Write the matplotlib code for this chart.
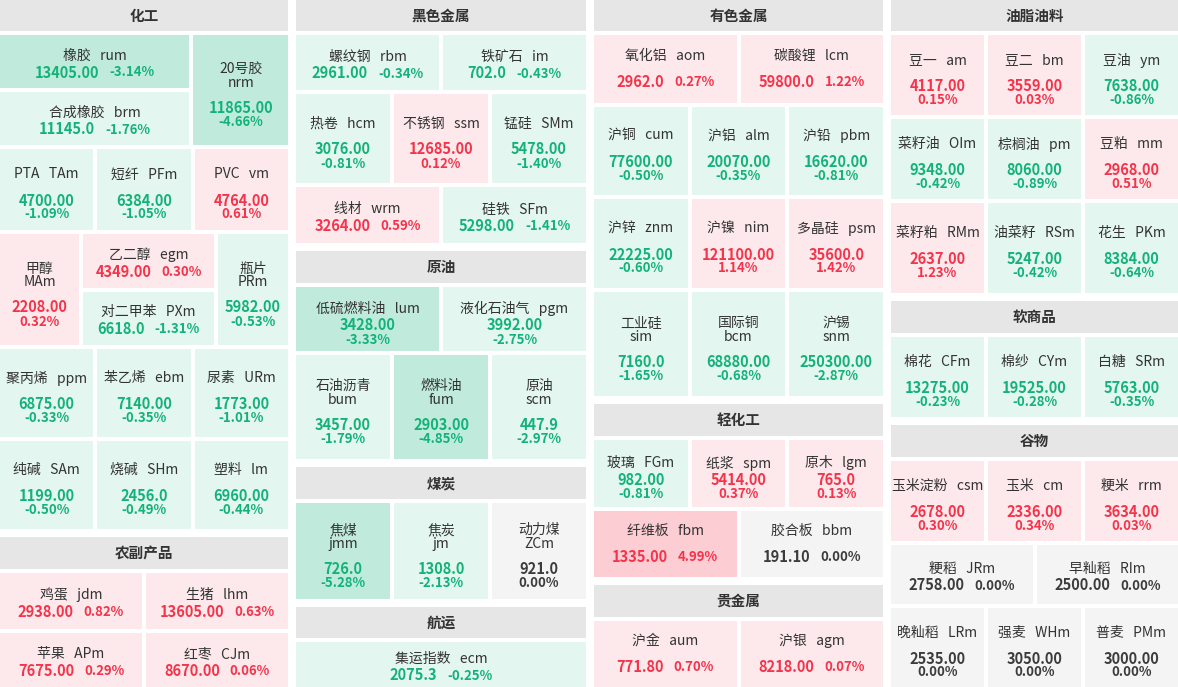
import matplotlib
matplotlib.use("Agg")
import matplotlib.pyplot as plt
from matplotlib.patches import Rectangle

plt.rcParams['font.family'] = ['Noto Sans CJK SC', 'DejaVu Sans']

# ---------------- data ----------------
chem_names = ["橡胶", "合成橡胶", "20号胶", "PTA", "短纤", "PVC", "甲醇", "乙二醇",
              "对二甲苯", "瓶片", "聚丙烯", "苯乙烯", "尿素", "纯碱", "烧碱", "塑料"]
chem_codes = ["rum", "brm", "nrm", "TAm", "PFm", "vm", "MAm", "egm",
              "PXm", "PRm", "ppm", "ebm", "URm", "SAm", "SHm", "lm"]
chem_prices = ["13405.00", "11145.0", "11865.00", "4700.00", "6384.00", "4764.00", "2208.00", "4349.00",
               "6618.0", "5982.00", "6875.00", "7140.00", "1773.00", "1199.00", "2456.0", "6960.00"]
chem_chg = [-3.14, -1.76, -4.66, -1.09, -1.05, 0.61, 0.32, 0.30,
            -1.31, -0.53, -0.33, -0.35, -1.01, -0.50, -0.49, -0.44]

agri_names = ["鸡蛋", "生猪", "苹果", "红枣"]
agri_codes = ["jdm", "lhm", "APm", "CJm"]
agri_prices = ["2938.00", "13605.00", "7675.00", "8670.00"]
agri_chg = [0.82, 0.63, 0.29, 0.06]

ferrous_names = ["螺纹钢", "铁矿石", "热卷", "不锈钢", "锰硅", "线材", "硅铁"]
ferrous_codes = ["rbm", "im", "hcm", "ssm", "SMm", "wrm", "SFm"]
ferrous_prices = ["2961.00", "702.0", "3076.00", "12685.00", "5478.00", "3264.00", "5298.00"]
ferrous_chg = [-0.34, -0.43, -0.81, 0.12, -1.40, 0.59, -1.41]

crude_names = ["低硫燃料油", "液化石油气", "石油沥青", "燃料油", "原油"]
crude_codes = ["lum", "pgm", "bum", "fum", "scm"]
crude_prices = ["3428.00", "3992.00", "3457.00", "2903.00", "447.9"]
crude_chg = [-3.33, -2.75, -1.79, -4.85, -2.97]

coal_names = ["焦煤", "焦炭", "动力煤"]
coal_codes = ["jmm", "jm", "ZCm"]
coal_prices = ["726.0", "1308.0", "921.0"]
coal_chg = [-5.28, -2.13, 0.00]

ship_names = ["集运指数"]
ship_codes = ["ecm"]
ship_prices = ["2075.3"]
ship_chg = [-0.25]

nonfer_names = ["氧化铝", "碳酸锂", "沪铜", "沪铝", "沪铅", "沪锌", "沪镍", "多晶硅",
                "工业硅", "国际铜", "沪锡"]
nonfer_codes = ["aom", "lcm", "cum", "alm", "pbm", "znm", "nim", "psm", "sim", "bcm", "snm"]
nonfer_prices = ["2962.0", "59800.0", "77600.00", "20070.00", "16620.00", "22225.00",
                 "121100.00", "35600.0", "7160.0", "68880.00", "250300.00"]
nonfer_chg = [0.27, 1.22, -0.50, -0.35, -0.81, -0.60, 1.14, 1.42, -1.65, -0.68, -2.87]

light_names = ["玻璃", "纸浆", "原木", "纤维板", "胶合板"]
light_codes = ["FGm", "spm", "lgm", "fbm", "bbm"]
light_prices = ["982.00", "5414.00", "765.0", "1335.00", "191.10"]
light_chg = [-0.81, 0.37, 0.13, 4.99, 0.00]

precious_names = ["沪金", "沪银"]
precious_codes = ["aum", "agm"]
precious_prices = ["771.80", "8218.00"]
precious_chg = [0.70, 0.07]

oil_names = ["豆一", "豆二", "豆油", "菜籽油", "棕榈油", "豆粕", "菜籽粕", "油菜籽", "花生"]
oil_codes = ["am", "bm", "ym", "OIm", "pm", "mm", "RMm", "RSm", "PKm"]
oil_prices = ["4117.00", "3559.00", "7638.00", "9348.00", "8060.00", "2968.00",
              "2637.00", "5247.00", "8384.00"]
oil_chg = [0.15, 0.03, -0.86, -0.42, -0.89, 0.51, 1.23, -0.42, -0.64]

soft_names = ["棉花", "棉纱", "白糖"]
soft_codes = ["CFm", "CYm", "SRm"]
soft_prices = ["13275.00", "19525.00", "5763.00"]
soft_chg = [-0.23, -0.28, -0.35]

grain_names = ["玉米淀粉", "玉米", "粳米", "粳稻", "早籼稻", "晚籼稻", "强麦", "普麦"]
grain_codes = ["csm", "cm", "rrm", "JRm", "RIm", "LRm", "WHm", "PMm"]
grain_prices = ["2678.00", "2336.00", "3634.00", "2758.00", "2500.00", "2535.00", "3050.00", "3000.00"]
grain_chg = [0.30, 0.34, 0.03, 0.00, 0.00, 0.00, 0.00, 0.00]

section_titles = {"chem": "化工", "agri": "农副产品", "ferrous": "黑色金属", "crude": "原油",
                  "coal": "煤炭", "ship": "航运", "nonfer": "有色金属", "light": "轻化工",
                  "precious": "贵金属", "oil": "油脂油料", "soft": "软商品", "grain": "谷物"}

# code -> (name, price, change)
quotes = {}
for names, codes, prices, chg in [
        (chem_names, chem_codes, chem_prices, chem_chg),
        (agri_names, agri_codes, agri_prices, agri_chg),
        (ferrous_names, ferrous_codes, ferrous_prices, ferrous_chg),
        (crude_names, crude_codes, crude_prices, crude_chg),
        (coal_names, coal_codes, coal_prices, coal_chg),
        (ship_names, ship_codes, ship_prices, ship_chg),
        (nonfer_names, nonfer_codes, nonfer_prices, nonfer_chg),
        (light_names, light_codes, light_prices, light_chg),
        (precious_names, precious_codes, precious_prices, precious_chg),
        (oil_names, oil_codes, oil_prices, oil_chg),
        (soft_names, soft_codes, soft_prices, soft_chg),
        (grain_names, grain_codes, grain_prices, grain_chg)]:
    for n, c, p, ch in zip(names, codes, prices, chg):
        quotes[c] = (n, p, ch)

# ---------------- layout ----------------
# ('h', section, height) or ('r', height, cells); cell = (weight, code, mode) or (weight, [(code, mode), ...])
# modes: w = name / price+pct, s = name / price / pct, t = name / code / price / pct
columns_x = [(0, 288), (296, 586), (594, 883), (891, 1178)]
layout = [
    [('h', 'chem', 31),
     ('r', 110, [(2, [('rum', 'w'), ('brm', 'w')]), (1, 'nrm', 't')]),
     ('r', 81, [(1, 'TAm', 's'), (1, 'PFm', 's'), (1, 'vm', 's')]),
     ('r', 111, [(79, 'MAm', 't'), (131, [('egm', 'w'), ('PXm', 'w')]), (70, 'PRm', 't')]),
     ('r', 88, [(1, 'ppm', 's'), (1, 'ebm', 's'), (1, 'URm', 's')]),
     ('r', 88, [(1, 'SAm', 's'), (1, 'SHm', 's'), (1, 'lm', 's')]),
     ('h', 'agri', 32),
     ('r', 56, [(1, 'jdm', 'w'), (1, 'lhm', 'w')]),
     ('r', 54, [(1, 'APm', 'w'), (1, 'CJm', 'w')])],
    [('h', 'ferrous', 31),
     ('r', 55, [(1, 'rbm', 'w'), (1, 'im', 'w')]),
     ('r', 89, [(1, 'hcm', 's'), (1, 'ssm', 's'), (1, 'SMm', 's')]),
     ('r', 56, [(1, 'wrm', 'w'), (1, 'SFm', 'w')]),
     ('h', 'crude', 32),
     ('r', 64, [(1, 'lum', 's'), (1, 'pgm', 's')]),
     ('r', 104, [(1, 'bum', 't'), (1, 'fum', 't'), (1, 'scm', 't')]),
     ('h', 'coal', 32),
     ('r', 96, [(1, 'jmm', 't'), (1, 'jm', 't'), (1, 'ZCm', 't')]),
     ('h', 'ship', 31),
     ('r', 45, [(1, 'ecm', 'w')])],
    [('h', 'nonfer', 31),
     ('r', 68, [(1, 'aom', 'w'), (1, 'lcm', 'w')]),
     ('r', 88, [(1, 'cum', 's'), (1, 'alm', 's'), (1, 'pbm', 's')]),
     ('r', 89, [(1, 'znm', 's'), (1, 'nim', 's'), (1, 'psm', 's')]),
     ('r', 104, [(1, 'sim', 't'), (1, 'bcm', 't'), (1, 'snm', 't')]),
     ('h', 'light', 32),
     ('r', 67, [(1, 'FGm', 's'), (1, 'spm', 's'), (1, 'lgm', 's')]),
     ('r', 66, [(1, 'fbm', 'w'), (1, 'bbm', 'w')]),
     ('h', 'precious', 32),
     ('r', 66, [(1, 'aum', 'w'), (1, 'agm', 'w')])],
    [('h', 'oil', 31),
     ('r', 80, [(1, 'am', 's'), (1, 'bm', 's'), (1, 'ym', 's')]),
     ('r', 80, [(1, 'OIm', 's'), (1, 'pm', 's'), (1, 'mm', 's')]),
     ('r', 90, [(1, 'RMm', 's'), (1, 'RSm', 's'), (1, 'PKm', 's')]),
     ('h', 'soft', 32),
     ('r', 80, [(1, 'CFm', 's'), (1, 'CYm', 's'), (1, 'SRm', 's')]),
     ('h', 'grain', 32),
     ('r', 80, [(1, 'csm', 's'), (1, 'cm', 's'), (1, 'rrm', 's')]),
     ('r', 59, [(1, 'JRm', 'w'), (1, 'RIm', 'w')]),
     ('r', 79, [(1, 'LRm', 's'), (1, 'WHm', 's'), (1, 'PMm', 's')])],
]

GAP = 4
HEADER_BG = '#e6e6e6'
TXT = '#333333'
UP, DOWN, FLAT = '#f5334b', '#13b27a', '#3c3c3c'


def tile_color(c):
    if c >= 3:
        return '#fccdd2'
    if c > 0:
        return '#fde9eb'
    if c == 0:
        return '#f4f4f4'
    if c > -3:
        return '#e3f6ef'
    return '#c0ebdc'


def txt_color(c):
    return UP if c > 0 else (DOWN if c < 0 else FLAT)


fig = plt.figure(figsize=(11.78, 6.87), dpi=100)
ax = fig.add_axes([0, 0, 1, 1])
ax.set_xlim(0, 1178)
ax.set_ylim(687, 0)
ax.axis('off')
renderer = fig.canvas.get_renderer()

NAME_FS, PRICE_FS, PCT_FS = 10, 10.5, 9.5
SEP = "   "


def draw_tile(code, mode, x0, y0, w, h):
    name, price, chg = quotes[code]
    ax.add_patch(Rectangle((x0, y0), w, h, facecolor=tile_color(chg), edgecolor='none'))
    cx, cy = x0 + w / 2, y0 + h / 2
    col = txt_color(chg)
    pct = f"{chg:.2f}%"
    if mode == 'w':
        gap = 26 if h >= 60 else 17
        dy = 0 if h >= 60 else 2.5
        ax.text(cx, cy - gap / 2 + dy, f"{name}{SEP}{code}", ha='center', va='center',
                fontsize=NAME_FS, color=TXT)
        tp = ax.text(0, cy + gap / 2 + dy, price, ha='left', va='center', fontsize=PRICE_FS,
                     fontweight='bold', color=col)
        tc = ax.text(0, cy + gap / 2 + dy, pct, ha='left', va='center', fontsize=PCT_FS,
                     fontweight='bold', color=col)
        wp = tp.get_window_extent(renderer).width
        wc = tc.get_window_extent(renderer).width
        left = cx - (wp + 10 + wc) / 2
        tp.set_x(left)
        tc.set_x(left + wp + 10)
    elif mode == 's':
        gnv = 26 if h >= 75 else 17
        yn = cy + 5 - (gnv + 14) / 2
        ax.text(cx, yn, f"{name}{SEP}{code}", ha='center', va='center', fontsize=NAME_FS, color=TXT)
        ax.text(cx, yn + gnv, price, ha='center', va='center', fontsize=PRICE_FS,
                fontweight='bold', color=col)
        ax.text(cx, yn + gnv + 14, pct, ha='center', va='center', fontsize=PCT_FS,
                fontweight='bold', color=col)
    else:
        ax.text(cx, cy - 21, name, ha='center', va='center', fontsize=NAME_FS, color=TXT)
        ax.text(cx, cy - 7, code, ha='center', va='center', fontsize=NAME_FS, color=TXT)
        ax.text(cx, cy + 18, price, ha='center', va='center', fontsize=PRICE_FS,
                fontweight='bold', color=col)
        ax.text(cx, cy + 32, pct, ha='center', va='center', fontsize=PCT_FS,
                fontweight='bold', color=col)


for (cx0, cx1), items in zip(columns_x, layout):
    cw = cx1 - cx0
    y = 0
    for i, item in enumerate(items):
        if item[0] == 'h':
            if i > 0:
                y += 2 * GAP
            _, key, hh = item
            ax.add_patch(Rectangle((cx0, y), cw, hh, facecolor=HEADER_BG, edgecolor='none'))
            ax.text(cx0 + cw / 2, y + hh / 2, section_titles[key], ha='center', va='center',
                    fontsize=10.5, fontweight='bold', color=TXT)
            y += hh
        else:
            y += GAP
            _, rh, cells = item
            total = sum(c[0] for c in cells)
            avail = cw - GAP * (len(cells) - 1)
            x = cx0
            for cell in cells:
                w = avail * cell[0] / total
                if isinstance(cell[1], list):
                    sub = cell[1]
                    sh = (rh - GAP * (len(sub) - 1)) / len(sub)
                    sy = y
                    for code, mode in sub:
                        draw_tile(code, mode, x, sy, w, sh)
                        sy += sh + GAP
                else:
                    draw_tile(cell[1], cell[2], x, y, w, rh)
                x += w + GAP
            y += rh

fig.savefig("out.png", dpi=100)
